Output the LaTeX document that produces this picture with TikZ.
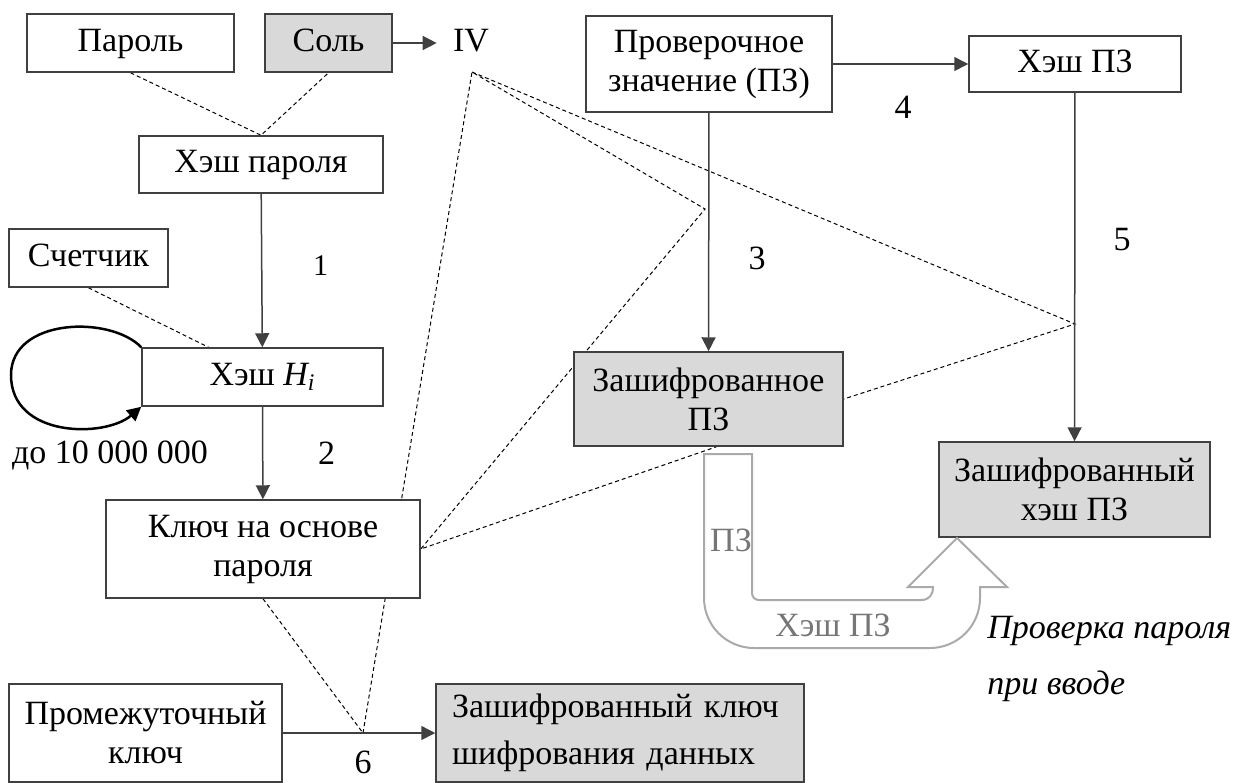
\documentclass[tikz,border=0pt]{standalone}
\usepackage{fontspec}
\setmainfont{Liberation Serif}
\usepackage{tikz}
\usetikzlibrary{arrows.meta,backgrounds}
\definecolor{boxfill}{RGB}{217,217,217}
\definecolor{boxline}{RGB}{64,64,64}
\definecolor{turnline}{RGB}{170,170,170}
\definecolor{turntext}{RGB}{118,118,118}

\begin{document}
\begin{tikzpicture}[x=0.5pt,y=-0.5pt,
        font=\fontsize{17}{19.5}\selectfont,
        box/.style={draw=boxline,line width=0.75pt,fill=white,align=center,inner sep=0pt},
        encbox/.style={box,fill=boxfill},
        oneline/.style={text height=11.5pt,text depth=3.5pt},
        flow/.style={draw=boxline,line width=0.75pt,-{Triangle[length=7pt,width=7pt]}},
        link/.style={black,line width=0.5pt,dash pattern=on 2pt off 1.5pt}]
        \useasboundingbox (0,0) rectangle (1240,782);
        % left column
        \node[box,oneline,minimum width=103.5pt,minimum height=29pt] (parol) at (130.5,43) {Пароль};
        \node[encbox,oneline,minimum width=63.5pt,minimum height=29pt] (sol) at (328.5,43) {Соль};
        \node[oneline,inner xsep=8pt,inner ysep=0pt] (iv) at (471,43) {IV};
        \node[box,oneline,minimum width=122pt,minimum height=28.5pt] (hashpar) at (261,164.5) {Хэш пароля};
        \node[box,oneline,minimum width=79.5pt,minimum height=29pt] (schet) at (88.5,258) {Счетчик};
        \node[box,oneline,minimum width=120.5pt,minimum height=29pt] (hashi) at (262.5,377) {Хэш {\itshape H\textsubscript{i}}};
        \node[box,minimum width=157pt,minimum height=49pt] (kluch) at (263,549) {Ключ на основе\\пароля};
        \node[box,minimum width=136.5pt,minimum height=49pt] (promkey) at (145.5,733) {Промежуточный\\ключ};
        \node[encbox,minimum width=184pt,minimum height=49pt,text width=168pt,align=left,
            font=\fontsize{17}{23.5}\selectfont] (enckey) at (620,733) {Зашифрованный ключ\\шифрования данных};
        % right part
        \node[box,minimum width=123pt,minimum height=48pt] (ppz) at (709,64) {Проверочное\\значение (ПЗ)};
        \node[box,oneline,minimum width=106pt,minimum height=28pt] (hashpz) at (1075,64) {Хэш ПЗ};
        \node[encbox,minimum width=134.5pt,minimum height=47pt] (encpz) at (708.5,399) {Зашифрованное\\ПЗ};
        \node[encbox,minimum width=135.5pt,minimum height=47.5pt] (enchash) at (1074.5,489.5) {Зашифрованный\\хэш ПЗ};

        \coordinate (ivpt) at (472,72);
        \coordinate (schetpt) at (210,348);
        \coordinate (mid6) at (363,733);
        \coordinate (p3) at (705,209);
        \coordinate (p5) at (1075,324);

        \draw[flow] (sol) -- (iv);
        \draw[flow] (hashpar) -- (hashi) node[pos=0.47,right=22pt,font=\fontsize{15}{18}\selectfont] (n1) {1};
        \draw[flow] (hashi) -- (kluch) node[midway,right=24pt] (n2) {2};
        \draw[flow] (promkey) -- (enckey);
        \node (n6) at (363,762) {6};
        \draw[flow] (ppz) -- (hashpz);
        \node (n4) at (903,107) {4};
        \draw[flow] (ppz) -- (encpz);
        \node (n3) at (757,258) {3};
        \draw[flow] (hashpz) -- (enchash);
        \node (n5) at (1122,240) {5};

        % loop over Hi
        \draw[line width=1.25pt,-{Triangle[length=7pt,width=7pt]}] (hashi.north west)
            .. controls (110,315) and (11,318) .. (11,375)
            .. controls (11,438) and (105,438) .. (hashi.south west);
        \node (loop) at (110,455) {до 10 000 000};

        \begin{scope}[on background layer]
            \draw[link] (parol.south) -- (hashpar.north) -- (sol.south);
            \draw[link] (schet.south) -- (schetpt);
            \draw[link] (mid6) -- (ivpt) -- (p3) -- (kluch.east) -- ([xshift=4pt]encpz.south);
            \draw[link] (ivpt) -- (p5) -- (encpz.east);
            \draw[link] (kluch.south) -- (mid6);
        \end{scope}

        % u-turn arrow
        \draw[turnline,line width=1pt,fill=white] (704,454) -- (752,454) -- (752,593)
            .. controls (752,597) and (755,600) .. (759,600) -- (921,600)
            .. controls (929,600) and (933,595) .. (933,587) -- (908,587) -- (957,538)
            -- (1007,587) -- (980,587) -- (980,598)
            .. controls (980,625.6) and (957.6,648) .. (930,648) -- (754,648)
            .. controls (726.4,648) and (704,625.6) .. (704,598) -- cycle;
        \node[turntext] (tpz) at (731,540) {ПЗ};
        \node[turntext] (thash) at (833,625) {Хэш ПЗ};
        \node[anchor=north west,inner sep=0pt,align=left,font=\fontsize{17}{28}\selectfont\itshape] (check) at (987,616) {Проверка пароля\\при вводе};
    \end{tikzpicture}
\end{document}
